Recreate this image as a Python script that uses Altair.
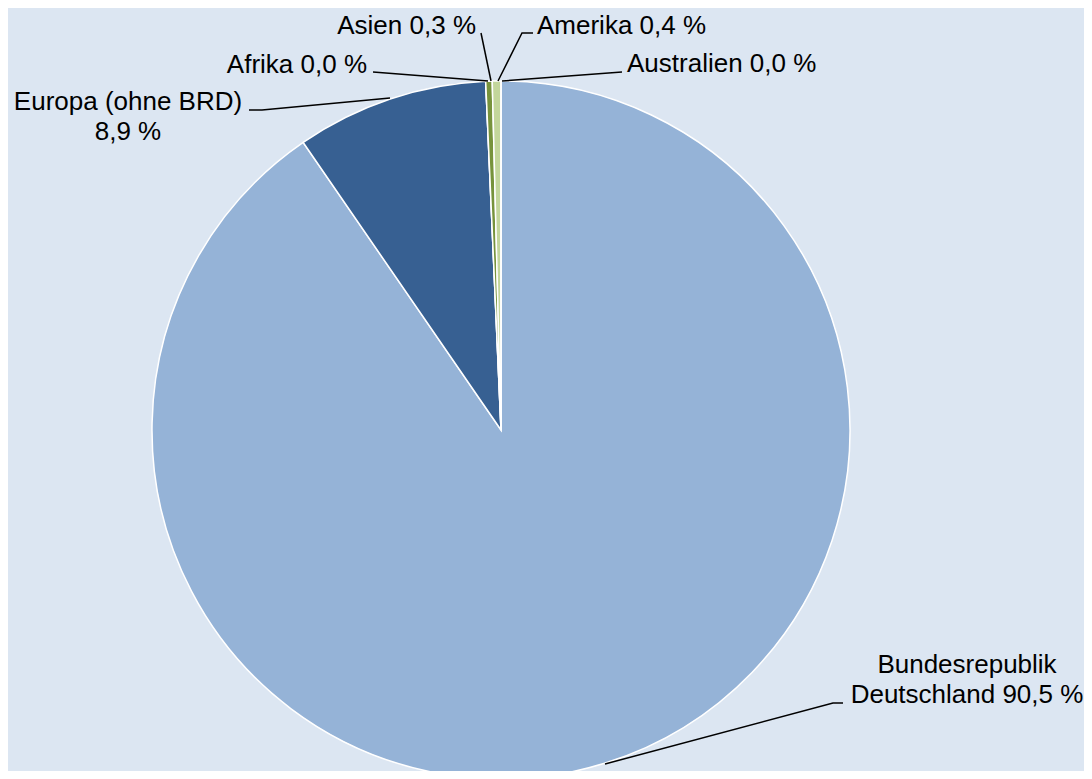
import altair as alt
import pandas as pd

# ---- data ----
categories = ["Bundesrepublik Deutschland", "Europa (ohne BRD)", "Afrika", "Asien", "Amerika", "Australien"]
shares = [90.5, 8.9, 0.0, 0.3, 0.4, 0.0]
label_texts = ["Bundesrepublik\nDeutschland 90,5 %", "Europa (ohne BRD)\n8,9 %", "Afrika 0,0 %",
               "Asien 0,3 %", "Amerika 0,4 %", "Australien 0,0 %"]

# ---- styles / layout (page pixels) ----
colors = ["#95B3D7", "#376092", "#4F81BD", "#77933C", "#C3D69B", "#D7E4BD"]
W, H, M = 1076, 763, 8
center = (501, 430)
R = 349
label_pos = [(967, 673, "center"), (128, 110, "center"), (367, 73, "right"),
             (476, 34, "right"), (537, 34, "left"), (627, 72, "left")]
leaders = [[(843, 703), (833, 703), (605, 764)],
           [(249, 110), (262, 110), (390, 98)],
           [(373, 72), (488, 81)],
           [(481, 33), (491, 81)],
           [(533, 33), (522, 33), (498, 81)],
           [(622, 72), (502, 81)]]

xs = alt.Scale(domain=[M, M + W], nice=False, zero=False)
ys = alt.Scale(domain=[M, M + H], nice=False, zero=False, reverse=True)

pie_df = pd.DataFrame({"cat": categories, "share": shares, "idx": list(range(len(categories))),
                       "cx": [center[0]] * len(categories), "cy": [center[1]] * len(categories)})

pie = alt.Chart(pie_df).transform_window(
    cum="sum(share)", sort=[alt.SortField("idx")], frame=[None, 0]
).transform_joinaggregate(total="sum(share)").transform_calculate(
    t1="datum.cum / datum.total", t0="(datum.cum - datum.share) / datum.total"
).mark_arc(radius=R, stroke="white", strokeWidth=1.5).encode(
    theta=alt.Theta("t0:Q", scale=alt.Scale(domain=[0, 1], range=[0, 6.283185307])),
    theta2="t1:Q",
    x=alt.X("cx:Q", scale=xs, axis=None),
    y=alt.Y("cy:Q", scale=ys, axis=None),
    color=alt.Color("cat:N", scale=alt.Scale(domain=categories, range=colors), legend=None),
)

rows = []
for i, pts in enumerate(leaders):
    for k, (px, py) in enumerate(pts):
        rows.append({"lab": i, "k": k, "px": px, "py": py})
lead_df = pd.DataFrame(rows)
lines = alt.Chart(lead_df).mark_line(color="black", strokeWidth=1.5).encode(
    x=alt.X("px:Q", scale=xs, axis=None),
    y=alt.Y("py:Q", scale=ys, axis=None),
    detail="lab:N",
    order="k:Q",
)

lab_df = pd.DataFrame({"text": label_texts, "px": [p[0] for p in label_pos],
                       "py": [p[1] for p in label_pos], "al": [p[2] for p in label_pos]})
text_layers = []
for al in ["left", "center", "right"]:
    text_layers.append(
        alt.Chart(lab_df).transform_filter(alt.datum.al == al).mark_text(
            align=al, baseline="alphabetic", font="Liberation Sans", fontSize=26,
            lineBreak="\n", lineHeight=30, color="black"
        ).encode(
            x=alt.X("px:Q", scale=xs, axis=None),
            y=alt.Y("py:Q", scale=ys, axis=None),
            text="text:N",
        )
    )

chart = alt.layer(pie, lines, *text_layers).properties(
    width=W, height=H, background="#DCE6F2", padding=0,
    autosize=alt.AutoSizeParams(type="none"),
).configure_view(stroke=None)

chart.save("out.html", embed_options={"renderer": "svg", "actions": False})
